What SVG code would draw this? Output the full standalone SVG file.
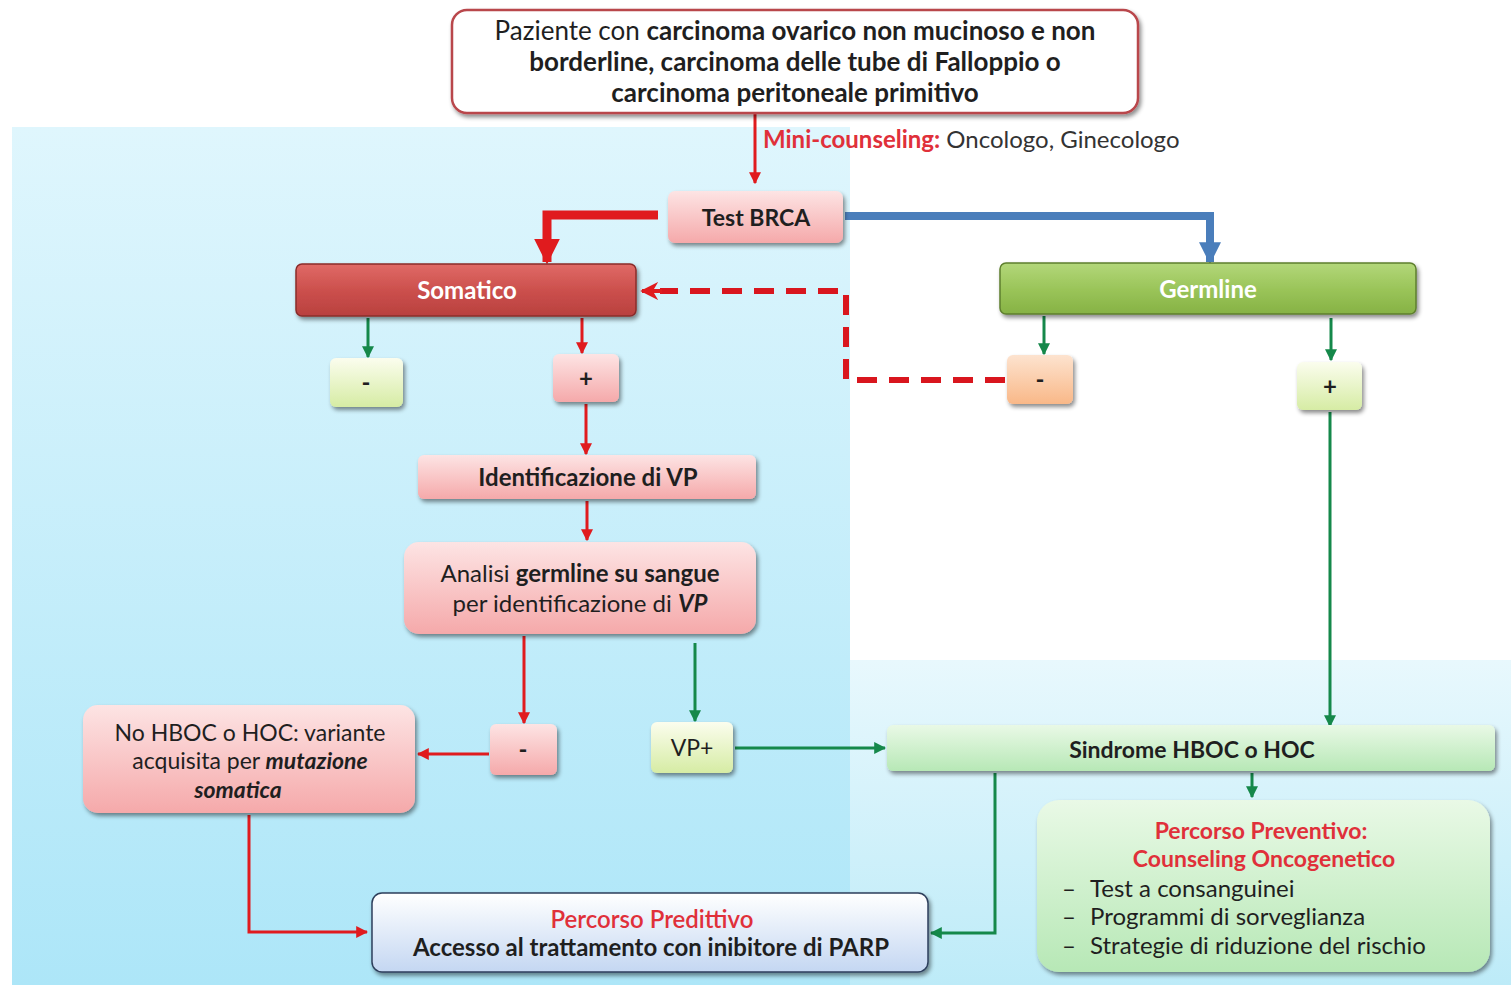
<svg xmlns="http://www.w3.org/2000/svg" width="1511" height="985" viewBox="0 0 1511 985">
<defs>
<linearGradient id="bgL" x1="0" y1="0" x2="0" y2="1"><stop offset="0" stop-color="#dff6fd"/><stop offset="1" stop-color="#ade6f8"/></linearGradient>
<linearGradient id="bgR" x1="0" y1="0" x2="0" y2="1"><stop offset="0" stop-color="#e8f8fd"/><stop offset="1" stop-color="#bdebf8"/></linearGradient>
<linearGradient id="pink" x1="0" y1="0" x2="0" y2="1"><stop offset="0" stop-color="#fde4e4"/><stop offset="1" stop-color="#f5a9aa"/></linearGradient>
<linearGradient id="dred" x1="0" y1="0" x2="0" y2="1"><stop offset="0" stop-color="#e06a66"/><stop offset="0.5" stop-color="#cc504d"/><stop offset="1" stop-color="#b9403e"/></linearGradient>
<linearGradient id="green" x1="0" y1="0" x2="0" y2="1"><stop offset="0" stop-color="#b3d77a"/><stop offset="0.5" stop-color="#9bc55a"/><stop offset="1" stop-color="#86b244"/></linearGradient>
<linearGradient id="lgreen" x1="0" y1="0" x2="0" y2="1"><stop offset="0" stop-color="#e9f9e6"/><stop offset="1" stop-color="#b7e8b6"/></linearGradient>
<linearGradient id="ygreen" x1="0" y1="0" x2="0" y2="1"><stop offset="0" stop-color="#fbfdee"/><stop offset="1" stop-color="#d6eca4"/></linearGradient>
<linearGradient id="orange" x1="0" y1="0" x2="0" y2="1"><stop offset="0" stop-color="#fde3cf"/><stop offset="1" stop-color="#f9b888"/></linearGradient>
<linearGradient id="blue" x1="0" y1="0" x2="0" y2="1"><stop offset="0" stop-color="#ffffff"/><stop offset="1" stop-color="#c4d7f2"/></linearGradient>
<filter id="sh" x="-10%" y="-20%" width="125%" height="150%"><feDropShadow dx="2" dy="3" stdDeviation="2" flood-color="#000" flood-opacity="0.45"/></filter>
<marker id="aR" viewBox="0 0 10 10" refX="9" refY="5" markerWidth="12" markerHeight="12" markerUnits="userSpaceOnUse" orient="auto"><path d="M0,0 L10,5 L0,10 z" fill="#e01b1e"/></marker>
<marker id="aG" viewBox="0 0 10 10" refX="9" refY="5" markerWidth="12" markerHeight="12" markerUnits="userSpaceOnUse" orient="auto"><path d="M0,0 L10,5 L0,10 z" fill="#15884a"/></marker>
<marker id="aRb" viewBox="0 0 10 10" refX="9" refY="5" markerWidth="26" markerHeight="30" markerUnits="userSpaceOnUse" orient="auto"><path d="M0,0 L10,5 L0,10 z" fill="#e01b1e"/></marker>
<marker id="aB" viewBox="0 0 10 10" refX="9" refY="5" markerWidth="22" markerHeight="26" markerUnits="userSpaceOnUse" orient="auto"><path d="M0,0 L10,5 L0,10 z" fill="#4a7ebb"/></marker>
<marker id="aRd" viewBox="0 0 10 10" refX="9" refY="5" markerWidth="18" markerHeight="18" markerUnits="userSpaceOnUse" orient="auto"><path d="M0,0 L10,5 L0,10 L3,5 z" fill="#e01b1e"/></marker>
</defs>
<style>
text{font-family:Lato,"Open Sans",sans-serif;fill:#1f1f1f;}
.t{font-size:24px;text-anchor:middle;}
.s{font-size:23px;}
.top{font-size:26px;}
.b{font-weight:bold;}
.bi{font-weight:bold;font-style:italic;}
.red{fill:#e0303a;}
.w{fill:#ffffff;}
.box{filter:url(#sh);}
.cr{fill:none;stroke:#e01b1e;stroke-width:3;}
.cg{fill:none;stroke:#15884a;stroke-width:3;}
.li{font-size:24px;}
</style>
<rect width="1511" height="985" fill="#ffffff"/>
<rect x="12" y="127" width="838" height="858" fill="url(#bgL)"/>
<rect x="850" y="660" width="661" height="325" fill="url(#bgR)"/>

<g id="connectors">
<path class="cr" d="M755,114 V183" marker-end="url(#aR)"/>
<path d="M658,215 H547 V262" fill="none" stroke="#e01b1e" stroke-width="9" marker-end="url(#aRb)"/>
<path d="M845,216 H1210 V262" fill="none" stroke="#4a7ebb" stroke-width="8" marker-end="url(#aB)"/>
<path d="M1005,380 H846 V291 H660" fill="none" stroke="#d9161e" stroke-width="6" stroke-dasharray="20,12"/>
<path d="M662,291 H642" fill="none" stroke="#e01b1e" stroke-width="4" marker-end="url(#aRd)"/>
<path class="cg" d="M368,318 V357" marker-end="url(#aG)"/>
<path class="cr" d="M582,318 V353" marker-end="url(#aR)"/>
<path class="cr" d="M586,404 V454" marker-end="url(#aR)"/>
<path class="cr" d="M587,501 V540" marker-end="url(#aR)"/>
<path class="cg" d="M1044,316 V354" marker-end="url(#aG)"/>
<path class="cg" d="M1331,318 V360" marker-end="url(#aG)"/>
<path class="cg" d="M1330,412 V726" marker-end="url(#aG)"/>
<path class="cr" d="M524,636 V723" marker-end="url(#aR)"/>
<path class="cr" d="M489,754 H418" marker-end="url(#aR)"/>
<path class="cg" d="M695,643 V721" marker-end="url(#aG)"/>
<path class="cg" d="M735,748 H885" marker-end="url(#aG)"/>
<path class="cg" d="M1252,773 V797" marker-end="url(#aG)"/>
<path class="cg" d="M995,773 V933 H931" marker-end="url(#aG)"/>
<path class="cr" d="M249,815 V932 H367" marker-end="url(#aR)"/>
</g>

<g id="patient">
<rect x="452" y="10" width="686" height="103" rx="15" fill="#ffffff" stroke="#b9474c" stroke-width="2.5" class="box"/>
<text class="t top" x="795" y="40"><tspan>Paziente con </tspan><tspan class="b">carcinoma ovarico non mucinoso e non</tspan></text>
<text class="t top b" x="795" y="71">borderline, carcinoma delle tube di Falloppio o</text>
<text class="t top b" x="795" y="102">carcinoma peritoneale primitivo</text>
</g>
<g id="mini-label">
<text x="763" y="148" style="font-size:24px"><tspan class="b red">Mini-counseling:</tspan><tspan fill="#333"> Oncologo, Ginecologo</tspan></text>
</g>
<g id="test-brca">
<rect x="668" y="191" width="175" height="52" rx="7" fill="url(#pink)" class="box"/>
<text class="t s b" x="756" y="226">Test BRCA</text>
</g>
<g id="somatico">
<rect x="296" y="264" width="340" height="52" rx="6" fill="url(#dred)" stroke="#8a2c2a" stroke-width="1.5" class="box"/>
<text class="t b w" x="467" y="299">Somatico</text>
</g>
<g id="germline">
<rect x="1000" y="263" width="416" height="51" rx="6" fill="url(#green)" stroke="#5e7f2e" stroke-width="1.5" class="box"/>
<text class="t b w" x="1208" y="298">Germline</text>
</g>
<g id="som-neg">
<rect x="330" y="358" width="73" height="49" rx="6" fill="url(#ygreen)" class="box"/>
<text class="t b" x="366" y="391">-</text>
</g>
<g id="som-pos">
<rect x="553" y="354" width="66" height="48" rx="6" fill="url(#pink)" class="box"/>
<text class="t b" x="586" y="387">+</text>
</g>
<g id="germ-neg">
<rect x="1007" y="355" width="66" height="49" rx="6" fill="url(#orange)" class="box"/>
<text class="t b" x="1040" y="388">-</text>
</g>
<g id="germ-pos">
<rect x="1297" y="362" width="65" height="48" rx="6" fill="url(#ygreen)" class="box"/>
<text class="t b" x="1330" y="395">+</text>
</g>
<g id="identificazione">
<rect x="418" y="455" width="338" height="44" rx="6" fill="url(#pink)" class="box"/>
<text class="t b" x="588" y="486">Identificazione di VP</text>
</g>
<g id="analisi">
<rect x="404" y="542" width="352" height="92" rx="15" fill="url(#pink)" class="box"/>
<text class="t" x="580" y="582"><tspan>Analisi </tspan><tspan class="b">germline su sangue</tspan></text>
<text class="t" x="580" y="612"><tspan>per identificazione di </tspan><tspan class="bi">VP</tspan></text>
</g>
<g id="analisi-neg">
<rect x="490" y="724" width="67" height="51" rx="6" fill="url(#pink)" class="box"/>
<text class="t b" x="523" y="758">-</text>
</g>
<g id="vp-pos">
<rect x="651" y="722" width="82" height="51" rx="6" fill="url(#ygreen)" class="box"/>
<text class="t s" x="692" y="756">VP+</text>
</g>
<g id="no-hboc">
<rect x="83" y="705" width="332" height="108" rx="15" fill="url(#pink)" class="box"/>
<text class="t s" x="250" y="741">No HBOC o HOC: variante</text>
<text class="t s" x="250" y="769"><tspan>acquisita per </tspan><tspan class="bi">mutazione</tspan></text>
<text class="t s bi" x="238" y="798">somatica</text>
</g>
<g id="sindrome">
<rect x="887" y="725" width="608" height="46" rx="6" fill="url(#lgreen)" class="box"/>
<text class="t s b" x="1192" y="758">Sindrome HBOC o HOC</text>
</g>
<g id="preventivo">
<rect x="1037" y="800" width="453" height="172" rx="22" fill="url(#lgreen)" class="box"/>
<text class="t s b red" x="1261" y="839">Percorso Preventivo:</text>
<text class="t s b red" x="1264" y="867">Counseling Oncogenetico</text>
<text x="1062" y="897" class="li">–</text><text x="1090" y="897" class="li">Test a consanguinei</text>
<text x="1062" y="925" class="li">–</text><text x="1090" y="925" class="li">Programmi di sorveglianza</text>
<text x="1062" y="954" class="li">–</text><text x="1090" y="954" class="li">Strategie di riduzione del rischio</text>
</g>
<g id="predittivo">
<rect x="372" y="893" width="556" height="79" rx="10" fill="url(#blue)" stroke="#2e3f5c" stroke-width="1.5" class="box"/>
<text class="t red" x="652" y="928" style="font-weight:600">Percorso Predittivo</text>
<text class="t b" x="651" y="956">Accesso al trattamento con inibitore di PARP</text>
</g>
</svg>
